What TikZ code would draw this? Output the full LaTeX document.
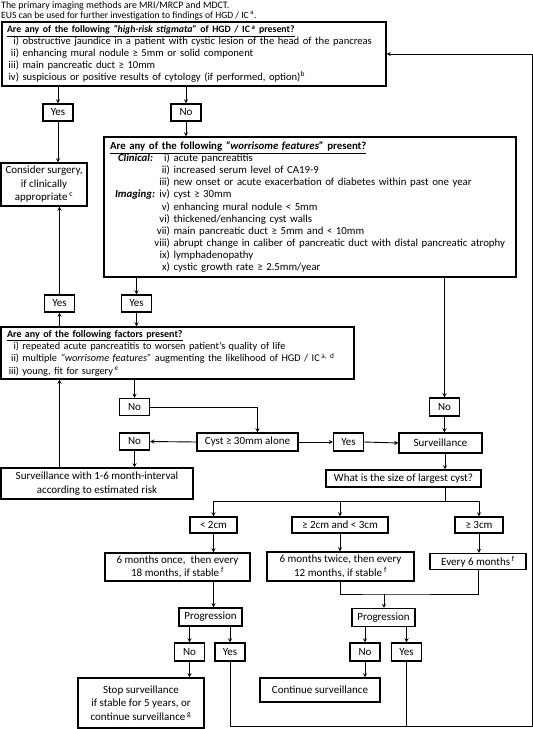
\documentclass[tikz,border=0pt]{standalone}
\usepackage{fontspec}
\setmainfont{Carlito}
\newcommand{\itm}[2]{\makebox[12pt][r]{#1)}\ #2}
\newcommand{\wfl}[3]{\makebox[0pt][l]{#1}\makebox[60pt][r]{#2)}\ #3}
\tikzset{
  box/.style={draw,line width=1.1pt,align=center,inner sep=1pt,font=\fontsize{11}{13.5}\selectfont},
  yn/.style={box,minimum width=30pt,minimum height=17pt},
  panel/.style={draw,line width=1.1pt,align=left,inner xsep=5pt,inner ysep=1pt},
  link/.style={line width=0.9pt}
}
\begin{document}
\begin{tikzpicture}[x=1pt,y=-1pt,>=stealth]
	\useasboundingbox (0,0) rectangle (533,729);
	\node[anchor=base west,inner sep=0pt,font=\fontsize{9.9}{10}\selectfont] (note1) at (1,8) {The primary imaging methods are MRI/MRCP and MDCT.};
	\node[anchor=base west,inner sep=0pt,font=\fontsize{9.6}{10}\selectfont] (note2) at (1,18) {EUS can be used for further investigation to findings of HGD / IC\,\textsuperscript{a}.};
	% high-risk stigmata
	\node[panel,text width=374pt,minimum height=64pt,font=\fontsize{10.6}{12}\selectfont] (hr) at (194,54) {\underline{\fontsize{9.8}{12}\selectfont\textbf{Are any of the following \textit{“high-risk stigmata”} of HGD / IC\,\textsuperscript{a} present?}}\\
		\itm{i}{obstructive jaundice in a patient with cystic lesion of the head of the pancreas}\\
		\itm{ii}{enhancing mural nodule ≥ 5mm or solid component}\\
		\itm{iii}{main pancreatic duct ≥ 10mm}\\
		\itm{iv}{suspicious or positive results of cytology (if performed, option)\textsuperscript{b}}};
	\node[yn] (y1) at (58,112.5) {Yes};
	\node[yn] (n1) at (186,112.5) {No};
	\node[box,minimum width=86pt,minimum height=43pt] (cs) at (44,184.5) {Consider surgery,\\if clinically\\appropriate\,\textsuperscript{c}};
	% worrisome features
	\node[panel,inner xsep=6pt,text width=400pt,minimum height=140pt,font=\fontsize{10.8}{12.1}\selectfont] (wf) at (310,207) {\underline{\textbf{Are any of the following \textit{“worrisome features”} present?}}\\
		\wfl{\hspace{8pt}\textbf{\textit{Clinical:}}}{i}{acute pancreatitis}\\
		\wfl{}{ii}{increased serum level of CA19-9}\\
		\wfl{}{iii}{new onset or acute exacerbation of diabetes within past one year}\\
		\wfl{\hspace{5pt}\textbf{\textit{Imaging:}}}{iv}{cyst ≥ 30mm}\\
		\wfl{}{v}{enhancing mural nodule < 5mm}\\
		\wfl{}{vi}{thickened/enhancing cyst walls}\\
		\wfl{}{vii}{main pancreatic duct ≥ 5mm and < 10mm}\\
		\wfl{}{viii}{abrupt change in caliber of pancreatic duct with distal pancreatic atrophy}\\
		\wfl{}{ix}{lymphadenopathy}\\
		\wfl{}{x}{cystic growth rate ≥ 2.5mm/year}};
	\node[yn] (y2) at (59.5,303.5) {Yes};
	\node[yn] (y3) at (136.5,303.5) {Yes};
	% factors
	\node[panel,inner xsep=6pt,text width=341pt,minimum height=52pt,font=\fontsize{10.3}{12.3}\selectfont] (fp) at (177.5,353) {\underline{\fontsize{10}{12.3}\selectfont\textbf{Are any of the following factors present?}}\\
		\itm{i}{repeated acute pancreatitis to worsen patient’s quality of life}\\
		\itm{ii}{multiple \textit{“worrisome features”} augmenting the likelihood of HGD / IC\,\textsuperscript{a, d}}\\
		\itm{iii}{young, fit for surgery\,\textsuperscript{e}}};
	\node[yn] (n2) at (134.5,407) {No};
	\node[yn,minimum height=18pt] (n3) at (444.5,407) {No};
	\node[yn] (n4) at (134.5,441.5) {No};
	\node[box,minimum width=101pt,minimum height=18pt] (cy) at (247.5,442) {Cyst ≥ 30mm alone};
	\node[yn,minimum height=18pt] (y4) at (348.5,442) {Yes};
	\node[box,minimum width=83pt,minimum height=20pt] (sv) at (440.5,443) {Surveillance};
	\node[box,minimum width=192pt,minimum height=31pt] (sw) at (97,483.5) {Surveillance with 1-6 month-interval\\according to estimated risk};
	\node[box,minimum width=155pt,minimum height=17pt] (ws) at (403.5,478.5) {What is the size of largest cyst?};
	% size branches
	\node[box,minimum width=47pt,minimum height=16pt] (c1) at (213.5,525) {< 2cm};
	\node[box,minimum width=96pt,minimum height=16pt] (c2) at (340,525) {≥ 2cm and < 3cm};
	\node[box,minimum width=48pt,minimum height=16pt] (c3) at (479,525) {≥ 3cm};
	\node[box,minimum width=145pt,minimum height=28pt] (m1) at (177.5,567) {6 months once,\ \ then every\\18 months, if stable\,\textsuperscript{f}};
	\node[box,minimum width=147pt,minimum height=29pt] (m2) at (340.5,566.5) {6 months twice, then every\\12 months, if stable\,\textsuperscript{f}};
	\node[box,minimum width=96pt,minimum height=16pt] (m3) at (478,561.5) {Every 6 months\,\textsuperscript{f}};
	\node[box,minimum width=63pt,minimum height=18pt] (p1) at (210.5,617) {Progression};
	\node[box,minimum width=63pt,minimum height=18pt] (p2) at (383.5,617.5) {Progression};
	\node[yn,minimum height=18pt] (n5) at (189.5,652) {No};
	\node[yn,minimum height=18pt] (y5) at (230,652) {Yes};
	\node[yn,minimum height=18pt] (n6) at (365,652) {No};
	\node[yn,minimum height=18pt] (y6) at (406.5,652) {Yes};
	\node[box,minimum width=126pt,minimum height=50pt] (ss) at (141,703) {Stop surveillance\\if stable for 5 years, or\\continue surveillance\,\textsuperscript{g}};
	\node[box,minimum width=120pt,minimum height=24pt] (cc) at (320,690) {Continue surveillance};
	\coordinate (br) at (445,501);
	\coordinate (jn) at (384,594);
	\coordinate (lp) at (532,726);
	% connectors
	\draw[link,->] (hr.south -| y1.north) -- (y1.north);
	\draw[link,->] (hr.south -| n1.north) -- (n1.north);
	\draw[link,->] (y1.south) -- (cs.north -| y1.south);
	\draw[link,->] (n1.south) -- (wf.north -| n1.south);
	\draw[link,->] (wf.south -| y3.north) -- (y3.north);
	\draw[link,->] (y3.south) -- (fp.north -| y3.south);
	\draw[link,->] (fp.north -| y2.south) -- (y2.south);
	\draw[link,->] (y2.north) -- (cs.south -| y2.north);
	\draw[link,->] (fp.south -| n2.north) -- (n2.north);
	\draw[link,->] (n2.east) -| ([xshift=10pt]cy.north);
	\draw[link,->] (cy.west) -- (n4.east);
	\draw[link,->] (n4.south) -- (sw.north -| n4.south);
	\draw[link,->] (sw.north -| y2.south) -- (fp.south -| y2.south);
	\draw[link,->] (cy.east) -- (y4.west);
	\draw[link,->] (y4.east) -- (sv.west);
	\draw[link,->] (wf.south -| n3.north) -- (n3.north);
	\draw[link,->] (n3.south) -- (sv.north -| n3.south);
	\draw[link,->] (sv.south -| br) -- (ws.north -| br);
	\draw[link] (ws.south -| br) -- (br);
	\draw[link] (c1.north |- br) -- (c3.north |- br);
	\foreach \c in {c1,c2,c3}\draw[link,->] (\c.north |- br) -- (\c.north);
	\draw[link,->] (c1.south) -- (m1.north -| c1.south);
	\draw[link,->] (m1.south -| c1.south) -- (p1.north -| c1.south);
	\draw[link,->] (c2.south) -- (m2.north -| c2.south);
	\draw[link,->] (c3.south) -- (m3.north -| c3.south);
	\draw[link] (m2.south) |- (jn) -| (m3.south);
	\draw[link,->] (jn) -- (p2.north -| jn);
	\draw[link,->] (p1.south -| n5.north) -- (n5.north);
	\draw[link,->] (p1.south -| y5.north) -- (y5.north);
	\draw[link,->] (n5.south) -- (ss.north -| n5.south);
	\draw[link,->] (p2.south -| n6.north) -- (n6.north);
	\draw[link,->] (p2.south -| y6.north) -- (y6.north);
	\draw[link,->] (n6.south) -- (cc.north -| n6.south);
	\draw[link] (y6.south) -- (y6.south |- lp);
	\draw[link,->] (y5.south) |- (lp) |- (hr.east);
\end{tikzpicture}
\end{document}
